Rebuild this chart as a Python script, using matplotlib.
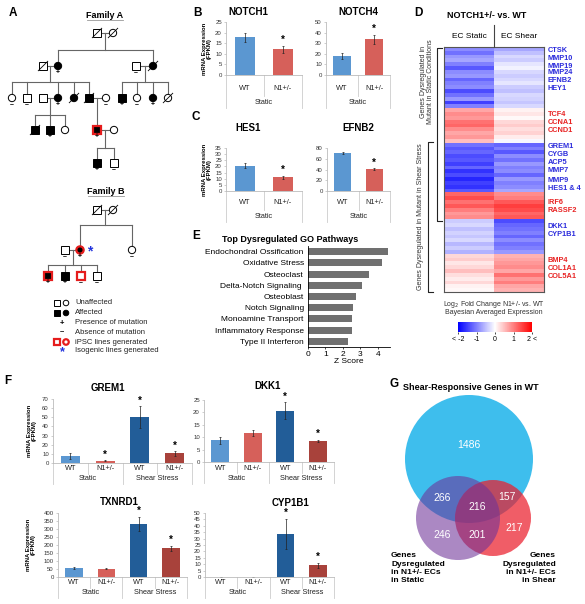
import numpy as np
import matplotlib
matplotlib.use('Agg')
import matplotlib.pyplot as plt
from matplotlib.patches import Rectangle, Circle

plt.rcParams['font.family'] = ['Liberation Sans', 'DejaVu Sans']

W, H = 585, 604

# ---------------- data ----------------
# panel B / C (static only)
static_cats = ['WT', 'N1+/-']
notch1_vals, notch1_err = [17.8, 12.2], [2.0, 1.6]
notch4_vals, notch4_err = [18.0, 33.5], [2.5, 4.5]
hes1_vals, hes1_err = [20.7, 11.0], [2.0, 1.5]
efnb2_vals, efnb2_err = [70.0, 40.5], [2.0, 2.0]
static_stars = [False, True]

# panel F (static + shear)
full_cats = ['WT', 'N1+/-', 'WT', 'N1+/-']
full_groups = ['Static', 'Shear Stress']
grem1_vals, grem1_err = [7.5, 2.5, 50.0, 10.5], [3.0, 0.5, 12.0, 2.5]
grem1_stars = [False, True, True, True]
dkk1_vals, dkk1_err = [8.7, 11.8, 20.7, 8.4], [1.5, 1.2, 3.3, 0.5]
dkk1_stars = [False, False, True, True]
txnrd1_vals, txnrd1_err = [57, 52, 330, 180], [6, 3, 45, 15]
txnrd1_stars = [False, False, True, True]
cyp1b1_vals, cyp1b1_err = [0.2, 0.2, 33.5, 9.0], [0.1, 0.1, 12.0, 2.0]
cyp1b1_stars = [False, False, True, True]

bar_colors = ['#5b97d1', '#d6605a', '#225d98', '#a8423b']

# panel E
pathways = ['Endochondral Ossification', 'Oxidative Stress', 'Osteoclast',
            'Delta-Notch Signaling ', 'Osteoblast', 'Notch Signaling',
            'Monoamine Transport', 'Inflammatory Response', 'Type II Interferon']
zscores = [4.6, 4.25, 3.5, 3.1, 2.75, 2.6, 2.55, 2.55, 2.3]

# panel D heatmap (log2 fold change, two columns)
hm_static = [-0.9, -1.1, -0.8, -0.7, -1.0, -1.3, -0.9, -0.8, -1.2, -1.0, -0.9, -1.4, -1.1, -0.8, -1.5, -1.0,
             0.7, 0.9, 0.8, 1.1, 1.2, 0.9, 0.7, 0.8, 0.5,
             -1.1, -1.3, -1.2, -1.4, -1.3, -1.5, -1.2, -1.6, -1.4, -1.7, -1.5, -1.6, -1.3,
             1.2, 1.4, 1.1, 1.3, 1.0, 0.8, 0.9,
             -0.4, -0.3, -0.5, -0.35, -0.45, -0.3, -0.55, -0.4, -0.6,
             0.3, 0.4, 0.2, 0.3, 0.5, 0.25, 0.15, 0.3, 0.1, 0.05]
hm_shear = [-0.7, -0.5, -0.3, -0.4, -0.2, -0.1, -0.3, -0.4, -0.3, -0.2, -0.4, -0.5, -0.3, -0.35, -0.45, -0.3,
            0.1, 0.2, 0.05, 0.3, 0.4, 0.25, 0.35, 0.15, -0.05,
            -1.2, -1.0, -1.3, -0.9, -1.1, -0.8, -1.0, -0.9, -1.2, -0.8, -1.0, -0.9, -0.7,
            0.9, 1.0, 1.3, 1.5, 1.4, 1.2, 1.3,
            -1.4, -1.2, -1.1, -1.0, -1.2, -0.9, -1.1, -1.0, -0.8,
            0.6, 0.7, 0.8, 0.9, 0.7, 1.1, 0.8, 1.0, 0.7, 0.6]
hm_columns = ['EC Static', 'EC Shear']
genes = ['CTSK', 'MMP10', 'MMP19', 'MMP24', 'EFNB2', 'HEY1',
         'TCF4', 'CCNA1', 'CCND1',
         'GREM1', 'CYGB', 'ACP5', 'MMP7', 'MMP9', 'HES1 & 4',
         'IRF6', 'RASSF2', 'DKK1', 'CYP1B1', 'BMP4', 'COL1A1', 'COL5A1']
gene_up = [0, 0, 0, 0, 0, 0, 1, 1, 1, 0, 0, 0, 0, 0, 0, 1, 1, 0, 0, 1, 1, 1]
gene_y = [51, 58, 66, 73, 81, 89, 114, 122, 130, 147, 155, 163, 171, 180, 189,
          203, 211, 226, 234, 261, 269, 277]

# panel G venn counts
venn_counts = {'A': 1486, 'AB': 266, 'ABC': 216, 'AC': 157, 'B': 246, 'BC': 201, 'C': 217}


def rect(x0, y0, x1, y1):
    return [x0 / W, 1 - y1 / H, (x1 - x0) / W, (y1 - y0) / H]


fig = plt.figure(figsize=(W / 100, H / 100), dpi=100)


def bar_panel(box, vals, errs, colors, stars, ymax, ystep, cats, groups,
              cat_dy, grp_dy, line_dy, mid_dy, ylabel_x=None):
    x0, y0, x1, y1 = box
    h = y1 - y0
    ax = fig.add_axes(rect(*box))
    n = len(vals)
    x = np.arange(n)
    ax.bar(x, vals, width=0.55, color=colors, yerr=errs,
           error_kw=dict(elinewidth=0.5, capsize=1.0, capthick=0.5, ecolor='#222'))
    for i in range(n):
        if stars[i]:
            ax.annotate('*', (i, vals[i] + errs[i]), xytext=(0, 0.5),
                        textcoords='offset points', ha='center', va='bottom',
                        fontsize=7, fontweight='bold')
    ax.set_xlim(-0.5, n - 0.5)
    ax.set_ylim(0, ymax)
    ax.set_yticks(np.arange(0, ymax + 0.1, ystep))
    ax.set_xticks([])
    for s in ['top', 'right']:
        ax.spines[s].set_visible(False)
    for s in ['left', 'bottom']:
        ax.spines[s].set_color('#bbbbbb')
        ax.spines[s].set_linewidth(0.6)
    ax.tick_params(axis='y', labelsize=4.3, length=1.5, width=0.4,
                   color='#aaaaaa', labelcolor='#333', pad=1.5)
    tr = ax.get_xaxis_transform()
    for i, c in enumerate(cats):
        ax.text(i, -cat_dy / h, c, transform=tr, ha='center', va='center',
                fontsize=5.3, color='#222')
    # group labels and separators
    per = n // len(groups)
    for g, lab in enumerate(groups):
        ax.text(g * per + (per - 1) / 2, -grp_dy / h, lab, transform=tr,
                ha='center', va='center', fontsize=5.3, color='#222')
    for b in range(len(groups) + 1):
        xb = b * per - 0.5
        ax.plot([xb, xb], [0, -line_dy / h], transform=tr, color='#cccccc',
                lw=0.6, clip_on=False)
    for i in range(1, n):
        if i % per:
            ax.plot([i - 0.5, i - 0.5], [0, -mid_dy / h], transform=tr,
                    color='#cccccc', lw=0.6, clip_on=False)
    if ylabel_x is not None:
        ax.set_ylabel('mRNA Expression\n(FPKM)', fontsize=4.3, fontweight='bold',
                      linespacing=1.0)
        ax.yaxis.set_label_coords((ylabel_x - x0) / (x1 - x0), 0.5)
    return ax


# panel B
bar_panel((226, 22, 302, 75), notch1_vals, notch1_err, bar_colors[:2], static_stars,
          25, 5, static_cats, ['Static'], 14, 28, 33, 21, ylabel_x=212)
bar_panel((326, 22, 390, 75), notch4_vals, notch4_err, bar_colors[:2], static_stars,
          50, 10, static_cats, ['Static'], 14, 28, 33, 21)
# panel C
bar_panel((226, 148, 302, 191), hes1_vals, hes1_err, bar_colors[:2], static_stars,
          35, 5, static_cats, ['Static'], 12, 26, 31, 19, ylabel_x=212)
bar_panel((327, 148, 390, 191), efnb2_vals, efnb2_err, bar_colors[:2], static_stars,
          80, 20, static_cats, ['Static'], 12, 26, 31, 19)
# panel F
bar_panel((53, 399, 192, 463), grem1_vals, grem1_err, bar_colors, grem1_stars,
          70, 10, full_cats, full_groups, 6, 16, 21, 11, ylabel_x=37)
bar_panel((204, 400, 334, 462), dkk1_vals, dkk1_err, bar_colors, dkk1_stars,
          25, 5, full_cats, full_groups, 6, 16, 21, 11)
bar_panel((58, 513, 187, 577), txnrd1_vals, txnrd1_err, bar_colors, txnrd1_stars,
          400, 50, full_cats, full_groups, 6, 16, 21, 11, ylabel_x=36)
bar_panel((205, 513, 334, 577), cyp1b1_vals, cyp1b1_err, bar_colors, cyp1b1_stars,
          50, 5, full_cats, full_groups, 6, 16, 21, 11)

# panel E
axe = fig.add_axes(rect(308, 246, 390, 347))
axe.barh(np.arange(len(pathways)), zscores, height=0.62, color='#707070')
axe.set_ylim(len(pathways) - 0.5, -0.5)
axe.set_xlim(0, 4.7)
axe.set_yticks(np.arange(len(pathways)))
axe.set_yticklabels(pathways, fontsize=6)
axe.set_xticks(range(5))
axe.tick_params(axis='x', labelsize=6, length=1.5, width=0.5, pad=1.5)
axe.tick_params(axis='y', length=0, pad=3)
axe.set_xlabel('Z Score', fontsize=6, labelpad=0)
for s in ['top', 'right']:
    axe.spines[s].set_visible(False)
for s in ['left', 'bottom']:
    axe.spines[s].set_linewidth(0.6)

# panel D heatmap
axh = fig.add_axes(rect(444, 47, 544, 292))
data = np.column_stack([hm_static, hm_shear])
im = axh.imshow(data, cmap='bwr', vmin=-2, vmax=2, aspect='auto',
                interpolation='nearest')
axh.set_xticks([])
axh.set_yticks([])
for s in axh.spines.values():
    s.set_color('#555555')
    s.set_linewidth(0.8)

cax = fig.add_axes(rect(458, 322, 532, 332))
cb = fig.colorbar(im, cax=cax, orientation='horizontal', ticks=[-2, -1, 0, 1, 2])
cb.ax.set_xticklabels(['< -2', '-1', '0', '1', '2 <'])
cb.ax.tick_params(labelsize=5, length=1.5, width=0.5, pad=1.5)
cb.outline.set_visible(False)

# ---------------- overlay in pixel coords ----------------
ov = fig.add_axes([0, 0, 1, 1])
ov.set_xlim(0, W)
ov.set_ylim(H, 0)
ov.axis('off')

for lab, (lx, ly) in zip('ABCDEFG', [(13, 13), (197, 13), (196, 117), (418, 13),
                                     (196, 236), (8, 381), (394, 384)]):
    ov.text(lx, ly, lab, fontsize=8.5, fontweight='bold', ha='center', va='center')

# bar titles
for t, (tx, ty) in zip(['NOTCH1', 'NOTCH4', 'HES1', 'EFNB2', 'GREM1', 'DKK1', 'TXNRD1', 'CYP1B1'],
                       [(248, 12), (358, 12), (248, 128), (358, 128),
                        (108, 388), (268, 386), (119, 502), (290, 503)]):
    ov.text(tx, ty, t, fontsize=7, fontweight='bold', ha='center', va='center')
ov.text(290, 240, 'Top Dysregulated GO Pathways', fontsize=6.5, fontweight='bold',
        ha='center', va='center')

# heatmap annotations
ov.text(487, 15, 'NOTCH1+/- vs. WT', fontsize=6.5, fontweight='bold', ha='center', va='center')
ov.text(469, 37, hm_columns[0], fontsize=6, ha='center', va='center')
ov.text(519, 37, hm_columns[1], fontsize=6, ha='center', va='center')
ov.plot([494, 494], [25, 47], color='#444', lw=0.8)
for g, up, gy in zip(genes, gene_up, gene_y):
    ov.text(548, gy, g, fontsize=5.3, fontweight='bold', ha='left', va='center',
            color='#e82323' if up else '#2b2bdc')
ov.plot([442, 437, 437, 442], [48, 48, 221, 221], color='#222', lw=0.8)
ov.plot([433, 428, 428, 433], [142, 142, 292, 292], color='#222', lw=0.8)
ov.text(427, 82, 'Genes Dysregulated in\nMutant in Static Conditions', rotation=90,
        fontsize=5, ha='center', va='center', color='#333', linespacing=1.1)
ov.text(421, 217, 'Genes Dysregulated in Mutant in Shear Stress', rotation=90,
        fontsize=5, ha='center', va='center', color='#333')
ov.text(494, 305, 'Log$_2$ Fold Change N1+/- vs. WT', fontsize=5, ha='center', va='center', color='#333')
ov.text(494, 313, 'Bayesian Averaged Expression', fontsize=5, ha='center', va='center', color='#333')

# venn
ov.add_patch(Circle((469, 459), 64, color='#3ebeed', lw=0))
ov.add_patch(Circle((493, 518), 38, color='#eb1e2d', alpha=0.72, lw=0))
ov.add_patch(Circle((458, 518), 42, color='#6e3299', alpha=0.58, lw=0))
for key, (vx, vy) in zip(['A', 'AB', 'ABC', 'AC', 'B', 'BC', 'C'],
                         [(469, 445), (442, 498), (477, 507), (507, 497),
                          (442, 535), (477, 535), (514, 528)]):
    ov.text(vx, vy, str(venn_counts[key]), color='white', fontsize=7.5,
            ha='center', va='center')
ov.text(471, 388, 'Shear-Responsive Genes in WT', fontsize=6.5, fontweight='bold',
        ha='center', va='center')
ov.text(391, 552, 'Genes\nDysregulated\nin N1+/- ECs\nin Static', fontsize=6,
        fontweight='bold', ha='left', va='top', linespacing=1.3)
ov.text(556, 552, 'Genes\nDysregulated\nin N1+/- ECs\nin Shear',
        fontsize=6, fontweight='bold', ha='right', va='top', linespacing=1.3,
        multialignment='right')

# pedigree
LC = '#666666'


def person(x, y, shape, aff, dec=False, mark='', ipsc=False, s=7.3):
    fc = 'black' if aff else 'white'
    ec = '#e51c1c' if ipsc else 'black'
    lw = 1.6 if ipsc else 0.7
    if shape == 's':
        p = Rectangle((x - s / 2, y - s / 2), s, s, fc=fc, ec=ec, lw=lw, zorder=3)
    else:
        p = Circle((x, y), s / 2, fc=fc, ec=ec, lw=lw, zorder=3)
    ov.add_patch(p)
    if dec:
        ov.plot([x - s * 0.65, x + s * 0.65], [y + s * 0.65, y - s * 0.65],
                color='black', lw=0.6, zorder=4)
    if mark:
        ov.text(x, y + s / 2 + 3.3, '+' if mark == '+' else '\u2013', fontsize=5,
                ha='center', va='center', fontweight='bold')


def ln(xs, ys):
    ov.plot(xs, ys, color=LC, lw=0.8, zorder=1)


def family_title(x, y, t):
    ov.text(x, y, t, fontsize=6.5, fontweight='bold', ha='center', va='center')
    ov.plot([x - 18, x + 18], [y + 5, y + 5], color='#999', lw=0.6)


family_title(105, 15, 'Family A')
# gen I
ln([97, 113], [33, 33]); ln([105, 105], [33, 50]); ln([58, 153], [50, 50])
ln([58, 58], [50, 66]); ln([153, 153], [50, 66])
person(97, 33, 's', False, True)
person(113, 33, 'c', False, True)
# gen II
ln([43, 58], [66, 66]); ln([136, 153], [66, 66])
ln([50, 50], [66, 82]); ln([145, 145], [66, 82])
ln([12, 89], [82, 82]); ln([122, 168], [82, 82])
person(43, 66, 's', False, True)
person(58, 66, 'c', True, False, '+')
person(136, 66, 's', False, False, '-')
person(153, 66, 'c', True, True)
# gen III
for cx in [12, 27, 58, 74, 89, 122, 137, 153, 168]:
    ln([cx, cx], [82, 98])
ln([43, 58], [98, 98]); ln([89, 106], [98, 98])
ln([50, 50], [98, 115]); ln([35, 65], [115, 115])
for cx in [35, 50, 65]:
    ln([cx, cx], [115, 130])
ln([97, 97], [98, 130])
person(12, 98, 'c', False, False, '-')
person(27, 98, 's', False, False, '-')
person(43, 98, 's', False)
person(58, 98, 'c', True, False, '+')
person(74, 98, 'c', True, True)
person(89, 98, 's', True, True)
person(106, 98, 'c', False, False, '-')
person(122, 98, 's', True, False, '+')
person(137, 98, 'c', False, False, '-')
person(153, 98, 'c', True, False, '+')
person(168, 98, 'c', False, True)
# gen IV
ln([97, 114], [130, 130]); ln([105, 105], [130, 148]); ln([97, 114], [148, 148])
ln([97, 97], [148, 163]); ln([114, 114], [148, 163])
person(35, 130, 's', True, True)
person(50, 130, 's', True, False, '+')
person(65, 130, 'c', False)
person(97, 130, 's', True, False, '+', True)
person(114, 130, 'c', False)
# gen V
person(97, 163, 's', True, False, '+')
person(114, 163, 's', False, False, '-')

family_title(106, 191, 'Family B')
ln([97, 113], [210, 210]); ln([105, 105], [210, 225]); ln([80, 132], [225, 225])
ln([80, 80], [225, 250]); ln([132, 132], [225, 250])
person(97, 210, 's', False, True)
person(113, 210, 'c', False, True)
ln([65, 80], [250, 250]); ln([73, 73], [250, 265]); ln([48, 97], [265, 265])
for cx in [48, 65, 81, 97]:
    ln([cx, cx], [265, 276])
person(65, 250, 's', False, False, '-')
person(80, 250, 'c', True, False, '+', True)
ov.text(90, 251, '*', color='#2233dd', fontsize=10, ha='center', va='center', fontweight='bold')
person(132, 250, 'c', False, False, '-')
person(48, 276, 's', True, False, '+', True)
person(65, 276, 's', True, False, '+')
person(81, 276, 's', False, False, '-', True)
person(97, 276, 's', False, False, '-')

# pedigree legend
person(57, 303, 's', False, s=5.5); person(66, 303, 'c', False, s=5.5)
person(57, 313, 's', True, s=5.5); person(66, 313, 'c', True, s=5.5)
ov.text(62, 323, '+', fontsize=5.5, ha='center', va='center', fontweight='bold')
ov.text(62, 332, '\u2013', fontsize=5.5, ha='center', va='center', fontweight='bold')
person(57, 342, 's', False, ipsc=True, s=5.5); person(66, 342, 'c', False, ipsc=True, s=5.5)
ov.text(62, 352, '*', color='#2233dd', fontsize=9, ha='center', va='center', fontweight='bold')
for ty, t in zip([303, 313, 323, 332, 342, 351],
                 ['Unaffected', 'Affected', 'Presence of mutation', 'Absence of mutation',
                  'iPSC lines generated', 'Isogenic lines generated']):
    ov.text(75, ty, t, fontsize=5.5, ha='left', va='center', color='#222')

fig.savefig('out.png', dpi=100)
